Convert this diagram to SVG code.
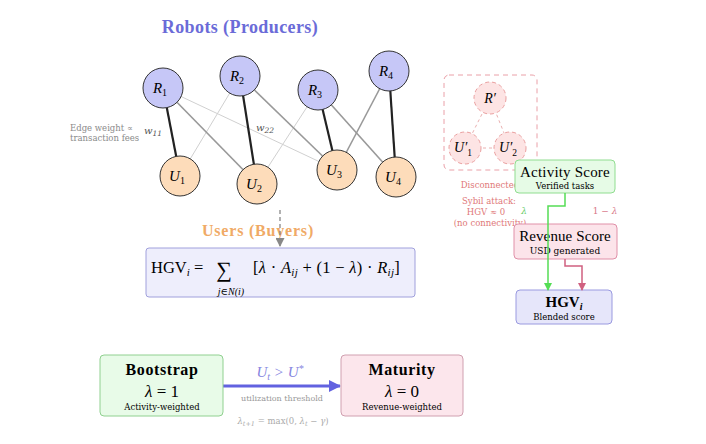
<svg xmlns="http://www.w3.org/2000/svg" width="706" height="444" viewBox="0 0 706 444">
<defs>
<style>
.t{font-family:"Liberation Serif","DejaVu Serif",serif;}
.s{font-family:"DejaVu Serif","Liberation Serif",serif;}
.it{font-style:italic;}
.r{fill:#c6c7f7;stroke:#333;stroke-width:1;}
.u{fill:#fddcba;stroke:#333;stroke-width:1;}
.strong{stroke:#222;stroke-width:2.2;}
.mid{stroke:#999;stroke-width:1.6;}
.weak{stroke:#d0d0d0;stroke-width:1;}
.sy{fill:#fde4e4;stroke:#eaa0a0;stroke-width:1;stroke-dasharray:4 3;}
.syt{fill:#e07878;font-size:8.5px;}
</style>
<marker id="ag" markerWidth="8" markerHeight="8" refX="7" refY="4" orient="auto" markerUnits="userSpaceOnUse"><path d="M0,0 L8,4 L0,8 z" fill="#55dd55"/></marker>
<marker id="ap" markerWidth="8" markerHeight="8" refX="7" refY="4" orient="auto" markerUnits="userSpaceOnUse"><path d="M0,0 L8,4 L0,8 z" fill="#d06080"/></marker>
<marker id="ab" markerWidth="12" markerHeight="12" refX="11" refY="6" orient="auto" markerUnits="userSpaceOnUse"><path d="M0,0 L12,6 L0,12 z" fill="#6262e0"/></marker>
<marker id="agr" markerWidth="9" markerHeight="9" refX="8" refY="4.5" orient="auto" markerUnits="userSpaceOnUse"><path d="M0,0 L9,4.5 L0,9 z" fill="#888"/></marker>
</defs>
<rect width="706" height="444" fill="#fff"/>

<text class="t" x="240" y="33" text-anchor="middle" font-size="18" font-weight="bold" letter-spacing="0.4" fill="#6b6bd8">Robots (Producers)</text>

<g id="edges">
<line class="weak" x1="163" y1="88" x2="337" y2="170"/>
<line class="weak" x1="240" y1="76" x2="180" y2="176"/>
<line class="weak" x1="318" y1="90" x2="257" y2="184"/>
<line class="mid" x1="163" y1="88" x2="257" y2="184"/>
<line class="mid" x1="240" y1="76" x2="337" y2="170"/>
<line class="mid" x1="318" y1="90" x2="396" y2="177"/>
<line class="mid" x1="389" y1="71" x2="337" y2="170"/>
<line class="strong" x1="163" y1="88" x2="180" y2="176"/>
<line class="strong" x1="240" y1="76" x2="257" y2="184"/>
<line class="strong" x1="318" y1="90" x2="337" y2="170"/>
<line class="strong" x1="389" y1="71" x2="396" y2="177"/>
</g>

<g id="R1"><circle class="r" cx="163" cy="88" r="20"/><text class="t it" x="160" y="93" font-size="15" text-anchor="middle">R<tspan font-size="10" font-style="normal" dy="3">1</tspan></text></g>
<g id="R2"><circle class="r" cx="240" cy="76" r="20"/><text class="t it" x="237" y="81" font-size="15" text-anchor="middle">R<tspan font-size="10" font-style="normal" dy="3">2</tspan></text></g>
<g id="R3"><circle class="r" cx="318" cy="90" r="20"/><text class="t it" x="315" y="95" font-size="15" text-anchor="middle">R<tspan font-size="10" font-style="normal" dy="3">3</tspan></text></g>
<g id="R4"><circle class="r" cx="389" cy="71" r="20"/><text class="t it" x="386" y="76" font-size="15" text-anchor="middle">R<tspan font-size="10" font-style="normal" dy="3">4</tspan></text></g>
<g id="U1"><circle class="u" cx="180" cy="176" r="20"/><text class="t it" x="177" y="181" font-size="15" text-anchor="middle">U<tspan font-size="10" font-style="normal" dy="3">1</tspan></text></g>
<g id="U2"><circle class="u" cx="257" cy="184" r="20"/><text class="t it" x="254" y="189" font-size="15" text-anchor="middle">U<tspan font-size="10" font-style="normal" dy="3">2</tspan></text></g>
<g id="U3"><circle class="u" cx="337" cy="170" r="20"/><text class="t it" x="334" y="175" font-size="15" text-anchor="middle">U<tspan font-size="10" font-style="normal" dy="3">3</tspan></text></g>
<g id="U4"><circle class="u" cx="396" cy="177" r="20"/><text class="t it" x="393" y="182" font-size="15" text-anchor="middle">U<tspan font-size="10" font-style="normal" dy="3">4</tspan></text></g>

<g id="edge-labels" class="s" fill="#8a8a8a">
<text x="70" y="131" font-size="8.5">Edge weight ∝</text>
<text x="70" y="141" font-size="8.5">transaction fees</text>
<text class="it" x="144" y="134" font-size="10" fill="#555">w<tspan font-size="7.5" dy="2">11</tspan></text>
<text class="it" x="256" y="131" font-size="10" fill="#555">w<tspan font-size="7.5" dy="2">22</tspan></text>
</g>

<text class="t" x="258" y="236" text-anchor="middle" font-size="16" font-weight="bold" letter-spacing="0.8" fill="#f0aa66">Users (Buyers)</text>
<line x1="280" y1="210" x2="280" y2="246" stroke="#888" stroke-width="1.3" stroke-dasharray="4 3" marker-end="url(#agr)"/>

<g id="formula">
<rect x="146" y="248" width="269" height="49" rx="3" fill="#eeeefc" stroke="#a0a0dc" stroke-width="1"/>
<text class="t" x="151" y="273" font-size="16.5">HGV<tspan font-size="11" class="it" dy="3">i</tspan><tspan dy="-3"> =</tspan></text>
<text class="t" x="224" y="277" font-size="22" text-anchor="middle">∑</text>
<text class="t it" x="231" y="295" font-size="10" text-anchor="middle">j∈N(i)</text>
<text class="t" x="253" y="273" font-size="16.5" letter-spacing="0.3">[<tspan class="it">λ</tspan> · <tspan class="it">A</tspan><tspan class="it" font-size="11" dy="3">ij</tspan><tspan dy="-3"> + (1 − </tspan><tspan class="it">λ</tspan>) · <tspan class="it">R</tspan><tspan class="it" font-size="11" dy="3">ij</tspan><tspan dy="-3">]</tspan></text>
</g>

<g id="sybil">
<rect x="444" y="75" width="93" height="95" rx="5" fill="none" stroke="#eaa0a8" stroke-width="1" stroke-dasharray="5 4"/>
<line x1="490" y1="98" x2="465" y2="148" stroke="#eab0b0" stroke-dasharray="3 3"/>
<line x1="490" y1="98" x2="510" y2="148" stroke="#eab0b0" stroke-dasharray="3 3"/>
<line x1="465" y1="148" x2="510" y2="148" stroke="#eab0b0" stroke-dasharray="3 3"/>
<circle class="sy" cx="490" cy="98" r="16"/>
<text class="t it" x="490" y="103" font-size="14" text-anchor="middle">R′</text>
<circle class="sy" cx="465" cy="148" r="16"/>
<text class="t it" x="463" y="152" font-size="14" text-anchor="middle">U′<tspan font-size="9.5" font-style="normal" dy="4">1</tspan></text>
<circle class="sy" cx="510" cy="148" r="16"/>
<text class="t it" x="508" y="152" font-size="14" text-anchor="middle">U′<tspan font-size="9.5" font-style="normal" dy="4">2</tspan></text>
<text class="s syt" x="490" y="188" text-anchor="middle">Disconnected</text>
<text class="s syt" x="489" y="204" text-anchor="middle">Sybil attack:</text>
<text class="s syt" x="486" y="215" text-anchor="middle">HGV ≈ 0</text>
<text class="s syt" x="490" y="226" text-anchor="middle">(no connectivity)</text>
</g>

<g id="activity">
<rect x="515" y="160" width="100" height="33" rx="4" fill="#e6fbe6" stroke="#90dd90" stroke-width="1"/>
<text class="t" x="565" y="177" font-size="15" letter-spacing="0.2" text-anchor="middle">Activity Score</text>
<text class="s" x="565" y="189" font-size="8.5" text-anchor="middle">Verified tasks</text>
</g>
<g id="revenue">
<rect x="514" y="224" width="103" height="35" rx="4" fill="#fce4ea" stroke="#e090a8" stroke-width="1"/>
<text class="t" x="565" y="241" font-size="15" letter-spacing="0.1" text-anchor="middle">Revenue Score</text>
<text class="s" x="565" y="254" font-size="9" text-anchor="middle">USD generated</text>
</g>
<g id="hgv">
<rect x="516" y="290" width="96" height="34" rx="4" fill="#e6e6fa" stroke="#9a9ae0" stroke-width="1"/>
<text class="t" x="564" y="307" font-size="15" font-weight="bold" text-anchor="middle">HGV<tspan class="it" font-size="10" dy="3">i</tspan></text>
<text class="s" x="564" y="320" font-size="8.5" text-anchor="middle">Blended score</text>
</g>

<g id="connectors">
<polyline points="565,193 565,206 548,206 548,290" fill="none" stroke="#55dd55" stroke-width="1.5" marker-end="url(#ag)"/>
<polyline points="565,259 565,266 582,266 582,290" fill="none" stroke="#d06080" stroke-width="1.5" marker-end="url(#ap)"/>
<text class="s it" x="524" y="214" font-size="9" fill="#66cc66" text-anchor="middle">λ</text>
<text class="s" x="605" y="214" font-size="9" fill="#d87888" text-anchor="middle">1 − <tspan class="it">λ</tspan></text>
<line x1="223" y1="386" x2="340" y2="386" stroke="#6262e0" stroke-width="3" marker-end="url(#ab)"/>
<text class="t it" x="280" y="377" font-size="15" fill="#8585e0" text-anchor="middle">U<tspan font-size="10" dy="3">t</tspan><tspan dy="-3"> &gt; U</tspan><tspan font-size="10" dy="-5">*</tspan></text>
<text class="s" x="282" y="401" font-size="8" fill="#999" text-anchor="middle">utilization threshold</text>
<text class="s" x="283" y="424" font-size="8.5" fill="#aaa" text-anchor="middle"><tspan class="it">λ</tspan><tspan font-size="6.5" class="it" dy="2">t+1</tspan><tspan dy="-2"> = max(0, </tspan><tspan class="it">λ</tspan><tspan font-size="6.5" class="it" dy="2">t</tspan><tspan dy="-2"> − </tspan><tspan class="it">γ</tspan>)</text>
</g>

<g id="bootstrap">
<rect x="100" y="355" width="123" height="61" rx="4" fill="#e8fbe8" stroke="#90d090" stroke-width="1"/>
<text class="t" x="162" y="375" font-size="16" font-weight="bold" letter-spacing="0.6" text-anchor="middle">Bootstrap</text>
<text class="t" x="162" y="397" font-size="17" text-anchor="middle"><tspan class="it">λ</tspan> = 1</text>
<text class="s" x="162" y="410" font-size="8.5" text-anchor="middle">Activity-weighted</text>
</g>
<g id="maturity">
<rect x="341" y="355" width="122" height="61" rx="4" fill="#fce6ec" stroke="#d0a0b0" stroke-width="1"/>
<text class="t" x="402" y="375" font-size="16" font-weight="bold" letter-spacing="0.6" text-anchor="middle">Maturity</text>
<text class="t" x="402" y="397" font-size="17" text-anchor="middle"><tspan class="it">λ</tspan> = 0</text>
<text class="s" x="402" y="410" font-size="8.5" text-anchor="middle">Revenue-weighted</text>
</g>
</svg>
